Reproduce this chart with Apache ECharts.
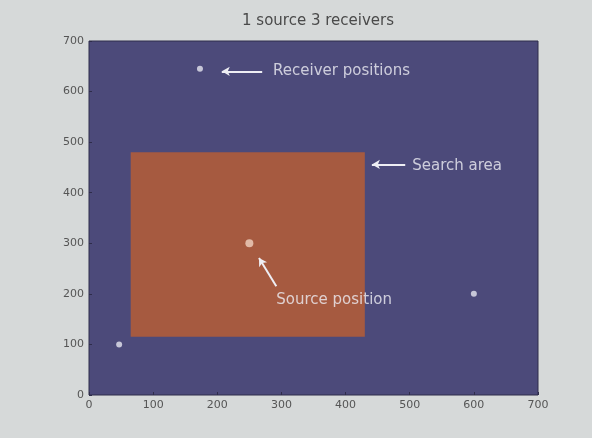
<!DOCTYPE html>
<html>
<head>
<meta charset="utf-8">
<script src="https://cdn.jsdelivr.net/npm/echarts@6/dist/echarts.min.js"></script>
<style>
  html, body { margin: 0; padding: 0; background: #d6d9d9; }
  #chart { width: 592px; height: 438px; }
</style>
</head>
<body>
<div id="chart"></div>
<script>
// Geometry of the scene (metres)
const axisTicks = [0, 100, 200, 300, 400, 500, 600, 700];
const receivers = [[173, 645], [47, 100], [600, 200]];
const source = [250, 300];
// search area: [xMin, yMin, xMax, yMax]
const searchArea = [65, 115, 430, 480];

// Annotation arrows: [tail, head] and their captions
const arrowReceiver = [[270, 640], [207, 640]];
const arrowSearch = [[493, 456], [441, 456]];
const arrowSource = [[292, 215], [265, 271]];
const captions = [
  { text: 'Receiver positions', at: [287, 640] },
  { text: 'Search area', at: [504, 452] },
  { text: 'Source position', at: [292, 188] }
];

const textColor = '#eeeef4';
const fontFamily = 'DejaVu Sans';
const chart = echarts.init(document.getElementById('chart'));

function arrow(pair) {
  return [{ coord: pair[0] }, { coord: pair[1] }];
}

const axisCommon = {
  type: 'value', min: 0, max: 700, interval: 100,
  splitLine: { show: false },
  axisLine: { show: false },
  axisTick: { show: true, inside: true, length: 3, lineStyle: { color: '#2e2c4a' } },
  axisLabel: { fontFamily: fontFamily, fontSize: 11, color: '#555', margin: 5,
    formatter: v => axisTicks.includes(v) ? String(v) : '' }
};

chart.setOption({
  backgroundColor: '#d6d9d9',
  animation: false,
  title: {
    text: '1 source 3 receivers',
    left: 313, top: 9, textAlign: 'center',
    textStyle: { fontFamily: fontFamily, fontWeight: 'normal', fontSize: 15, color: '#4a4a4a' }
  },
  grid: {
    left: 89, right: 54, top: 41, bottom: 43,
    show: true, backgroundColor: '#4c4a7a', borderColor: '#2e2c4a', borderWidth: 1
  },
  xAxis: axisCommon,
  yAxis: axisCommon,
  series: [
    {
      // search area rectangle
      type: 'custom',
      silent: true,
      z: 1,
      data: [searchArea],
      renderItem: function (params, api) {
        const p0 = api.coord([api.value(0), api.value(3)]);
        const p1 = api.coord([api.value(2), api.value(1)]);
        return {
          type: 'rect',
          shape: { x: p0[0], y: p0[1], width: p1[0] - p0[0], height: p1[1] - p0[1] },
          style: { fill: '#a65a40' }
        };
      }
    },
    {
      name: 'Receivers',
      type: 'scatter',
      z: 3,
      symbolSize: 6,
      itemStyle: { color: '#e6e6f0' },
      data: receivers
    },
    {
      name: 'Source',
      type: 'scatter',
      z: 3,
      symbolSize: 8,
      itemStyle: { color: '#f0d2c0' },
      data: [source]
    },
    {
      // annotations
      type: 'scatter',
      z: 4,
      symbolSize: 0,
      data: captions.map(c => ({ value: c.at, name: c.text })),
      label: {
        show: true, position: 'right', distance: 0, formatter: '{b}',
        fontFamily: fontFamily, fontSize: 15, color: textColor
      },
      markLine: {
        silent: true,
        symbol: ['none', 'arrow'],
        symbolSize: [7, 8],
        label: { show: false },
        lineStyle: { color: textColor, width: 2, type: 'solid' },
        data: [arrow(arrowReceiver), arrow(arrowSearch), arrow(arrowSource)]
      }
    }
  ]
});
</script>
</body>
</html>
